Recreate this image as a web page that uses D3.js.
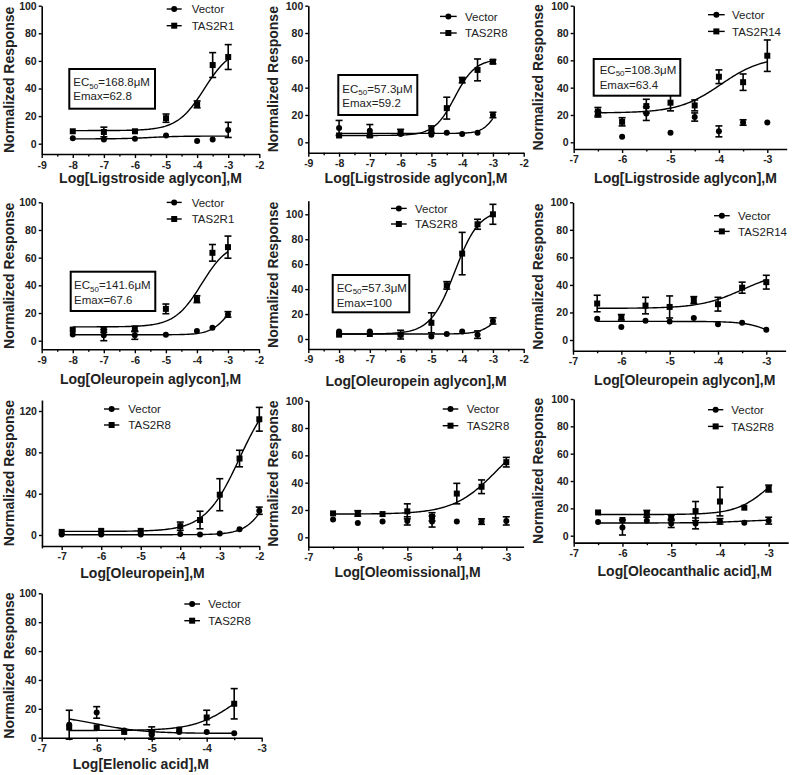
<!DOCTYPE html>
<html><head><meta charset="utf-8">
<script src="https://cdn.jsdelivr.net/npm/d3@7"></script>
<style>body{margin:0;background:#fff} svg{display:block}</style>
</head><body>
<svg id="c" width="793" height="775"></svg>
<script>
// ---------------- DATA ----------------
const yTitle = "Normalized Response";
const vectorName = "Vector";
const receptorNames = ["TAS2R1","TAS2R8","TAS2R14","TAS2R1","TAS2R8","TAS2R14","TAS2R8","TAS2R8","TAS2R8","TAS2R8"];
const xTitles = ["Log[Ligstroside aglycon],M","Log[Ligstroside aglycon],M","Log[Ligstroside aglycon],M",
  "Log[Oleuropein aglycon],M","Log[Oleuropein aglycon],M","Log[Oleuropein aglycon],M",
  "Log[Oleuropein],M","Log[Oleomissional],M","Log[Oleocanthalic acid],M","Log[Elenolic acid],M"];
const ec50Labels = ["168.8","57.3","108.3","141.6","57.3"];
const emaxLabels = ["62.8","59.2","63.4","67.6","100"];

// concentrations (log M)
const xA = [-8,-7,-6,-5,-4,-3.5,-3];
const xB = [-8,-7,-6,-5,-4.5,-4,-3.5,-3];
const xC = [-6.5,-6,-5.5,-5,-4.5,-4,-3.5,-3];
const xD = [-7,-6,-5,-4,-3.5,-3,-2.5,-2];
const xE = [-6.5,-6,-5.5,-5,-4.5,-4,-3.5];

// panel 1 Ligstroside aglycon / TAS2R1
const p1Vec = [4,3,3.5,6,2,3,10];          const p1VecErr = [0,0,0,0,0,0,5.5];
const p1Rec = [9,8.5,9,18.5,28.5,57,62.8]; const p1RecErr = [0,3.5,0,3,2.5,9,9];
// panel 2 Ligstroside aglycon / TAS2R8
const p2Vec = [10.5,8.5,6,5.5,7,6,7,20];   const p2VecErr = [5.5,4.5,0,0,0,0,0,2];
const p2Rec = [5,5,7.5,9.5,25,45.5,53,59]; const p2RecErr = [0,0,2,2.5,8,2,8,1.5];
// panel 3 Ligstroside aglycon / TAS2R14
const p3Vec = [20.5,4,21,7,18.5,8,14.5,14.5];  const p3VecErr = [2,0,5,0,3,4,2,0];
const p3Rec = [22.5,15,26.5,29,27,48,44,63.4]; const p3RecErr = [3,3,5,6,4,5,6,11.5];
// panel 4 Oleuropein aglycon / TAS2R1
const p4Vec = [4.5,4,4,4.3,7,9.4,19];      const p4VecErr = [0,4,3,0,0,0,2];
const p4Rec = [8,8,8.5,23,30,63.5,67.6];   const p4RecErr = [0,2,2,3.5,2.5,6,8];
// panel 5 Oleuropein aglycon / TAS2R8
const p5Vec = [6,6,3.5,2,4,6,3.5,14.5];    const p5VecErr = [0,0,0,0,0,0,3,2.5];
const p5Rec = [3.5,4,3.5,13,43,68.5,92,100]; const p5RecErr = [0,0,3.5,8,3,17,4,8];
// panel 6 Oleuropein aglycon / TAS2R14
const p6Vec = [15.5,9.5,14,13.5,16,11.5,12.5,7.5]; const p6VecErr = [0,0,0,0,0,0,0,0];
const p6Rec = [26.5,16.5,25,24,29,26,38,42];      const p6RecErr = [6,2,6,8,2.5,5,4,5];
// panel 7 Oleuropein / TAS2R8
const p7Vec = [0.5,0.5,0.5,1,0.5,1.5,5.5,23.5];   const p7VecErr = [0,0,0,0,0,0,0,3.5];
const p7Rec = [3,4,4,8.5,14.5,39,74,112];         const p7RecErr = [0,0,0,4,8.5,15.5,8,11.5];
// panel 8 Oleomissional / TAS2R8
const p8Vec = [13,10.5,11.5,12,11.5,11.5,11.5,12]; const p8VecErr = [0,0,0,3,4,0,2,3];
const p8Rec = [17.5,17.5,17,19,15,32,37,55];       const p8RecErr = [0,2,0,5.5,3,7.5,5,3.5];
// panel 9 Oleocanthalic acid / TAS2R8
const p9Vec = [10,6,11,9,9,10.5,9.5,11];           const p9VecErr = [0,5.5,0,3,4,2,0,2.5];
const p9Rec = [17,11.5,16,13,18,25,20.5,34.5];     const p9RecErr = [0,0,2.5,2,7,10.5,0,2.5];
// panel 10 Elenolic acid / TAS2R8
const p10Vec = [9,17.5,5,2,4,4,3];                 const p10VecErr = [10,4,0,3,0,0,0];
const p10Rec = [7,7,4,3.5,5.5,14,23.5];            const p10RecErr = [0,0,0,4,0,5,10.5];

// fitted curves: [left plateau, right plateau, logEC50, hill]  (null = no curve)
const vecFits = [[3.5,5.5,-5.5,1],[6.5,35,-2.9,2],null,[4.3,33,-3,1.5],[4,30,-2.8,1.5],
                 [13.5,-10,-2.7,1.5],[0.3,80,-1.7,1.5],null,[9.3,12,-3.5,1],[16,3,-6,1]];
const recFits = [[9.5,70,-3.77,1],[5,61,-4.24,1.3],[21.5,63,-3.965,1],[10,72,-3.85,1],[4,104,-4.24,1.1],
                 [23,50,-3.5,1],[3.5,145,-2.5,1],[17,80,-3.2,1],[15.5,55,-3,1.3],[5,42,-3.5,1.2]];
const curveRanges = [[-8,-3],[-8,-3],[-6.5,-3],[-8,-3],[-8,-3],[-6.5,-3],[-7,-2],[-6.5,-3],[-6.5,-3],[-6.5,-3.5]];

const panelData = [
  {x:xA, vec:p1Vec, vecErr:p1VecErr, rec:p1Rec, recErr:p1RecErr},
  {x:xB, vec:p2Vec, vecErr:p2VecErr, rec:p2Rec, recErr:p2RecErr},
  {x:xC, vec:p3Vec, vecErr:p3VecErr, rec:p3Rec, recErr:p3RecErr},
  {x:xA, vec:p4Vec, vecErr:p4VecErr, rec:p4Rec, recErr:p4RecErr},
  {x:xB, vec:p5Vec, vecErr:p5VecErr, rec:p5Rec, recErr:p5RecErr},
  {x:xC, vec:p6Vec, vecErr:p6VecErr, rec:p6Rec, recErr:p6RecErr},
  {x:xD, vec:p7Vec, vecErr:p7VecErr, rec:p7Rec, recErr:p7RecErr},
  {x:xC, vec:p8Vec, vecErr:p8VecErr, rec:p8Rec, recErr:p8RecErr},
  {x:xC, vec:p9Vec, vecErr:p9VecErr, rec:p9Rec, recErr:p9RecErr},
  {x:xE, vec:p10Vec, vecErr:p10VecErr, rec:p10Rec, recErr:p10RecErr}
];

// ---------------- LAYOUT ----------------
const L = [
 {xc:[[-9,41.7],[-2,259.3]], xa:[-9,-2], yc:[[0,143.7],[100,5.7]], ya:[-7.5,100], yt:[0,20,40,60,80,100],
  tx:150.5, ty:183, ytx:13.5, lg:[166.7,181.7,191.7,13.3,30], box:[69.3,69,85.7,39.7,73.3,86,100]},
 {xc:[[-9,308.3],[-2,523.7]], xa:[-9,-2], yc:[[0,142.3],[100,5.7]], ya:[-7.6,100], yt:[0,20,40,60,80,100],
  tx:416, ty:183, ytx:278.3, lg:[440,456.7,465,20.7,37.3], box:[338.3,75,79,40,342.3,92.7,106.7]},
 {xc:[[-7,573.7],[-3,767.3]], xa:[-7,-2.6], yc:[[0,142.3],[100,5.7]], ya:[-4.9,100], yt:[0,20,40,60,80,100],
  tx:685.5, ty:183, ytx:543, lg:[708,724.7,732,19,35.7], box:[593.7,59,86.6,36.7,599.7,73.5,88.8]},
 {xc:[[-9,41.7],[-2,259]], xa:[-9,-2], yc:[[0,340.7],[100,202.3]], ya:[-6.2,100], yt:[0,20,40,60,80,100],
  tx:150.5, ty:384, ytx:13.5, lg:[166.7,181.7,191.7,206.7,223.3], box:[70.7,271.7,84.6,39.3,74,289.3,303.7]},
 {xc:[[-9,308.3],[-2,523.7]], xa:[-9,-2], yc:[[0,339],[100,214.3]], ya:[-8,110.9], yt:[0,20,40,60,80,100],
  tx:416, ty:386, ytx:278.3, lg:[391,406.7,415,212.7,228.3], box:[332.7,275,76.6,37.3,336.7,291.7,306.5]},
 {xc:[[-7,573],[-3,766.3]], xa:[-7,-2.6], yc:[[0,340],[100,202.3]], ya:[-7.8,100], yt:[0,20,40,60,80,100],
  tx:684.7, ty:385, ytx:543, lg:[714,729.7,738,220,235.7], box:null},
 {xc:[[-7,61.7],[-2,259.3]], xa:[-7.5,-2], yc:[[0,535],[120,411]], ya:[-10.6,130.6], yt:[0,40,80,120],
  tx:142.5, ty:578, ytx:13.5, lg:[104,119.3,128.3,413.3,429.3], box:null},
 {xc:[[-7,308.3],[-3,506.3]], xa:[-7,-2.65], yc:[[0,537.3],[100,400.7]], ya:[-6.9,100], yt:[0,20,40,60,80,100],
  tx:407.5, ty:577, ytx:278.3, lg:[442.7,458.3,466.7,413.3,430], box:null},
 {xc:[[-7,573.7],[-3,768.7]], xa:[-7,-2.6], yc:[[0,535.7],[100,399]], ya:[-5.1,100], yt:[0,20,40,60,80,100],
  tx:684.7, ty:576, ytx:543, lg:[708,723.3,731.3,414,430.7], box:null},
 {xc:[[-7,41.7],[-3,261.7]], xa:[-7,-3], yc:[[0,737.7],[100,593.3]], ya:[0,100], yt:[0,20,40,60,80,100],
  tx:140.8, ty:769, ytx:13.5, lg:[184.3,200,208.3,608.3,625], box:null}
];

const FONT = "'Liberation Sans', Arial, Helvetica, sans-serif";
const svg = d3.select("#c");
svg.append("rect").attr("width",793).attr("height",775).attr("fill","#fff");

function fourPL(p, x){ return p[0] + (p[1]-p[0])/(1+Math.pow(10,(p[2]-x)*p[3])); }

function marker(g, type, cx, cy){
  if(type==="circle") g.append("circle").attr("cx",cx).attr("cy",cy).attr("r",3).attr("fill","#000");
  else g.append("rect").attr("x",cx-3).attr("y",cy-3).attr("width",6).attr("height",6).attr("fill","#000");
}

L.forEach((lay,i)=>{
  const d = panelData[i];
  const g = svg.append("g");
  const x = d3.scaleLinear().domain([lay.xc[0][0],lay.xc[1][0]]).range([lay.xc[0][1],lay.xc[1][1]]);
  const y = d3.scaleLinear().domain([lay.yc[0][0],lay.yc[1][0]]).range([lay.yc[0][1],lay.yc[1][1]]);
  const xAx = d3.scaleLinear().domain(lay.xa).range(lay.xa.map(x));
  const yAx = d3.scaleLinear().domain(lay.ya).range(lay.ya.map(y));
  const yBase = y(lay.ya[0]);
  const xBase = x(lay.xa[0]);

  const lo = Math.ceil(lay.xa[0]), hi = Math.floor(lay.xa[1]);
  const majors = d3.range(lo, hi+0.001, 1);
  const minors = d3.range(Math.ceil(lay.xa[0]*2)/2, lay.xa[1]+0.001, 0.5).filter(v=>!Number.isInteger(v));

  // x axis
  const gx = g.append("g").attr("transform",`translate(0,${yBase})`);
  gx.call(d3.axisBottom(xAx).tickValues(majors).tickSize(4).tickSizeOuter(0).tickPadding(3).tickFormat(v=>String(v)));
  g.append("g").attr("transform",`translate(0,${yBase})`)
    .call(d3.axisBottom(xAx).tickValues(minors).tickSize(2.5).tickSizeOuter(0).tickFormat(""))
    .select(".domain").remove();
  // y axis
  const gy = g.append("g").attr("transform",`translate(${xBase},0)`);
  gy.call(d3.axisLeft(yAx).tickValues(lay.yt).tickSize(3).tickSizeOuter(0).tickPadding(2).tickFormat(v=>String(v)));
  g.selectAll(".domain").attr("stroke","#000").attr("stroke-width",1.6);
  g.selectAll(".tick line").attr("stroke","#000").attr("stroke-width",1.4);
  g.selectAll(".tick text").attr("font-family",FONT).attr("font-weight","bold").attr("font-size",10.5).attr("fill","#222");

  // titles
  g.append("text").attr("x",lay.tx).attr("y",lay.ty).attr("text-anchor","middle")
    .attr("font-family",FONT).attr("font-weight","bold").attr("font-size",14).attr("fill","#222").text(xTitles[i]);
  const ycy = (y(lay.ya[0])+y(lay.ya[1]))/2;
  g.append("text").attr("transform",`translate(${lay.ytx},${ycy}) rotate(-90)`).attr("text-anchor","middle")
    .attr("font-family",FONT).attr("font-weight","bold").attr("font-size",14).attr("fill","#222").text(yTitle);

  // curves
  const line = d3.line().x(p=>x(p[0])).y(p=>y(p[1])).curve(d3.curveLinear);
  const cr = curveRanges[i];
  const xs = d3.range(0,121).map(k=>cr[0]+(cr[1]-cr[0])*k/120);
  [vecFits[i], recFits[i]].forEach(fp=>{
    if(!fp) return;
    g.append("path").attr("d",line(xs.map(v=>[v,fourPL(fp,v)]))).attr("fill","none")
      .attr("stroke","#000").attr("stroke-width",1.4);
  });

  // error bars + markers
  const series = [{m:d.vec,e:d.vecErr,t:"circle"},{m:d.rec,e:d.recErr,t:"square"}];
  series.forEach(s=>{
    s.m.forEach((v,k)=>{
      const e = s.e[k]; const cx = x(d.x[k]);
      if(e>0){
        const y1=y(v+e), y2=y(v-e);
        g.append("line").attr("x1",cx).attr("x2",cx).attr("y1",y1).attr("y2",y2).attr("stroke","#000").attr("stroke-width",1.6);
        [y1,y2].forEach(yy=>g.append("line").attr("x1",cx-3.5).attr("x2",cx+3.5).attr("y1",yy).attr("y2",yy).attr("stroke","#000").attr("stroke-width",1.6));
      }
    });
  });
  series.forEach(s=>{ s.m.forEach((v,k)=>marker(g,s.t,x(d.x[k]),y(v))); });

  // legend
  const lg = lay.lg;
  [[vectorName,"circle",lg[3]],[receptorNames[i],"square",lg[4]]].forEach(([name,t,b])=>{
    const ly = b-4.3;
    g.append("line").attr("x1",lg[0]).attr("x2",lg[1]).attr("y1",ly).attr("y2",ly).attr("stroke","#000").attr("stroke-width",1.4);
    marker(g,t,(lg[0]+lg[1])/2,ly);
    g.append("text").attr("x",lg[2]).attr("y",b).attr("font-family",FONT).attr("font-size",11.5).attr("fill","#222").text(name);
  });

  // EC50 box
  if(lay.box){
    const b = lay.box;
    g.append("rect").attr("x",b[0]).attr("y",b[1]).attr("width",b[2]).attr("height",b[3])
      .attr("fill","#fff").attr("stroke","#000").attr("stroke-width",2);
    const t1 = g.append("text").attr("x",b[4]).attr("y",b[5]).attr("font-family",FONT).attr("font-size",11.5).attr("fill","#222");
    t1.append("tspan").text("EC");
    t1.append("tspan").attr("font-size",8).attr("dy",2.5).text("50");
    t1.append("tspan").attr("dy",-2.5).text("=" + ec50Labels[i] + "\u03BCM");
    g.append("text").attr("x",b[4]).attr("y",b[6]).attr("font-family",FONT).attr("font-size",11.5).attr("fill","#222")
      .text("Emax=" + emaxLabels[i]);
  }
});
</script>
</body></html>
